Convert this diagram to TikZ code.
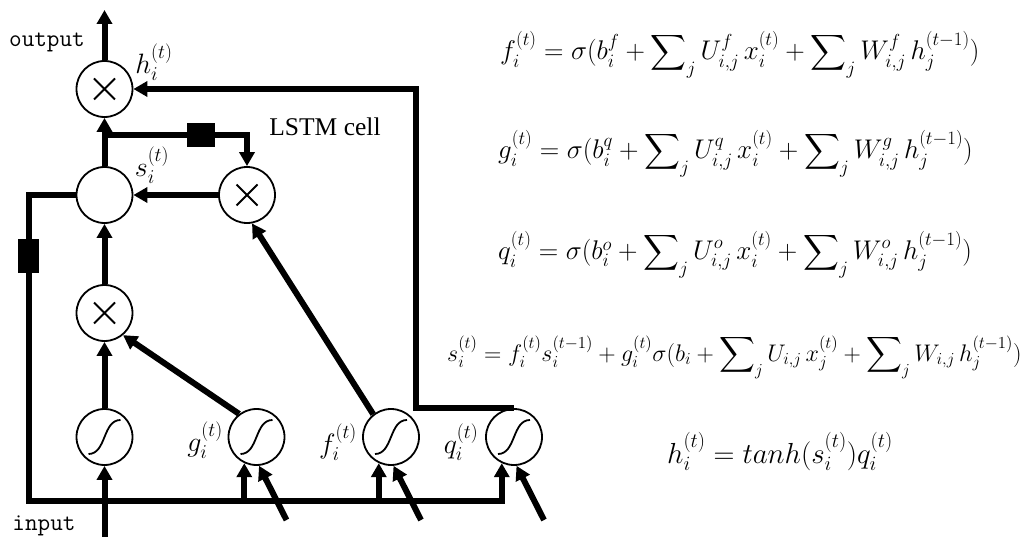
\RequirePackage{fix-cm}
\documentclass[tikz,border=0pt]{standalone}
\usepackage{amsmath}
\usepackage{fontspec}
\newfontfamily\cellfont{Liberation Serif}
\usetikzlibrary{arrows.meta}

\newcommand{\sumj}{\displaystyle\sum\nolimits_{j}}

\begin{document}
\begin{tikzpicture}[
    x=1pt, y=1pt,
    opnode/.style={circle, draw, line width=1.8pt, minimum size=56pt, inner sep=0pt},
    mulnode/.style={opnode, path picture={
        \draw[line width=1.8pt] (path picture bounding box.center) ++(-10.5,-10.5) -- ++(21,21)
              ++(-21,0) -- ++(21,-21);}},
    signode/.style={opnode, path picture={
        \draw[line width=1.8pt] (path picture bounding box.center) ++(-16,-17)
              .. controls +(18,0) and +(-18,0) .. ++(32,34);}},
    delay/.style={fill=black, inner sep=0pt},
    lbl/.style={inner sep=0pt, font=\fontsize{28}{32}\selectfont},
    eqn/.style={anchor=base west, inner sep=0pt, font=\fontsize{27}{32}\selectfont},
    io/.style={inner sep=0pt, font=\ttfamily\fontsize{24.5}{28}\selectfont},
    arr/.style={-{Triangle[length=14pt,width=15pt]}, line width=6pt},
]
\useasboundingbox (0,0) rectangle (1023,-537);

% ── Cell nodes ────────────────────────────────────────
\node[mulnode] (hmul) at (104.5,-89)  {};
\node[opnode]  (snode) at (104.5,-195) {};
\node[mulnode] (fmul) at (247,-195)   {};
\node[mulnode] (imul) at (104.5,-313) {};

% ── Squashing units ──────────────────────────────────
\node[signode] (tin)  at (104.5,-437) {};
\node[signode] (gsig) at (256.5,-437) {};
\node[signode] (fsig) at (391,-437)   {};
\node[signode] (qsig) at (514,-437)   {};

% ── Free ends and corners ────────────────────────────
\coordinate (out)  at (104.5,-10);
\coordinate (inp)  at (104.5,-537);
\coordinate (br)   at (104.5,-135);
\coordinate (busL) at (29,-501);
\coordinate (qcorner) at (416,0);
\coordinate (gin)  at (286.5,-520);
\coordinate (fin)  at (421,-520);
\coordinate (qin)  at (544,-520);

% ── Connectors ───────────────────────────────────────
\draw[arr] (hmul.north) -- (out);
\draw[arr] (snode.north) -- (hmul.south);
\draw[arr] (br) -| (fmul.north);
\draw[arr] (fmul.west) -- (snode.east);
\draw[arr] (imul.north) -- (snode.south);
\draw[arr] (tin.north) -- (imul.south);
\draw[arr] (gsig.127) -- (imul.-50);
\draw[arr] (fsig.128) -- (fmul.-80);
\draw[arr] (qsig.north) -- (qsig.north -| qcorner) |- (hmul.east);

% self loop + gate inputs
\draw[arr] (snode.west) -| (busL) -- (busL -| qsig.-115) -- (qsig.-115);
\draw[arr] (busL -| gsig.-115) -- (gsig.-115);
\draw[arr] (busL -| fsig.-115) -- (fsig.-115);

\draw[arr] (inp) -- (tin.south);
\draw[arr] (gin) -- (gsig.-85);
\draw[arr] (fin) -- (fsig.-85);
\draw[arr] (qin) -- (qsig.-85);

% ── Delays ───────────────────────────────────────────
\node[delay, minimum width=28pt, minimum height=24pt] (dtop)  at (201,-135) {};
\node[delay, minimum width=21pt, minimum height=34pt] (dleft) at (28,-256)  {};

% ── Labels ───────────────────────────────────────────
\node[io] (outlbl) at (47,-42)  {output};
\node[io] (inlbl)  at (44,-526) {input};
\node[inner sep=0pt, font=\fontsize{25.5}{30}\selectfont\cellfont] (cell) at (325,-127) {LSTM cell};

\node[lbl] (hlab) at (154,-62)  {$h_i^{(t)}$};
\node[lbl] (slab) at (152,-165) {$s_i^{(t)}$};
\node[lbl] (glab) at (205,-440) {$g_i^{(t)}$};
\node[lbl] (flab) at (338,-442) {$f_i^{(t)}$};
\node[lbl] (qlab) at (461,-442) {$q_i^{(t)}$};

% ── Equations ────────────────────────────────────────
\node[eqn] (eqf) at (500,-60)
    {$f_i^{(t)} = \sigma(b_i^f + \sumj U_{i,j}^f\, x_i^{(t)} + \sumj W_{i,j}^f\, h_j^{(t-1)})$};
\node[eqn] (eqg) at (498,-159)
    {$g_i^{(t)} = \sigma(b_i^q + \sumj U_{i,j}^q\, x_i^{(t)} + \sumj W_{i,j}^g\, h_j^{(t-1)})$};
\node[eqn] (eqq) at (498,-260)
    {$q_i^{(t)} = \sigma(b_i^o + \sumj U_{i,j}^o\, x_i^{(t)} + \sumj W_{i,j}^o\, h_j^{(t-1)})$};
\node[eqn, font=\fontsize{24}{28}\selectfont] (eqs) at (447,-361)
    {$s_i^{(t)} = f_i^{(t)} s_i^{(t-1)} + g_i^{(t)}\sigma(b_i + \sumj U_{i,j}\, x_j^{(t)} + \sumj W_{i,j}\, h_j^{(t-1)})$};
\node[eqn, font=\fontsize{29}{34}\selectfont] (eqh) at (667,-463)
    {$h_i^{(t)} = tanh(s_i^{(t)})q_i^{(t)}$};

\end{tikzpicture}
\end{document}
